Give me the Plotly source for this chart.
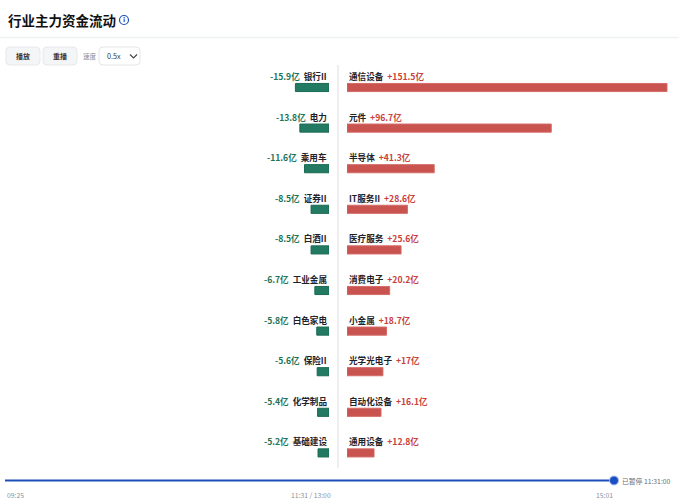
import plotly.graph_objects as go

# Data (亿 = 100 million CNY)
neg_names = ["银行II", "电力", "乘用车", "证券II", "白酒II",
             "工业金属", "白色家电", "保险II", "化学制品", "基础建设"]
neg_vals = [-15.9, -13.8, -11.6, -8.5, -8.5, -6.7, -5.8, -5.6, -5.4, -5.2]

pos_names = ["通信设备", "元件", "半导体", "IT服务II", "医疗服务",
             "消费电子", "小金属", "光学光电子", "自动化设备", "通用设备"]
pos_vals = [151.5, 96.7, 41.3, 28.6, 25.6, 20.2, 18.7, 17, 16.1, 12.8]

time_ticks = ["09:25", "11:31 / 13:00", "15:01"]
status_text = "已暂停 11:31:00"

W, H = 679, 500
FONT = "Noto Sans CJK SC"
GREEN = "#237a62"
GREEN_TXT = "#1c7456"
RED = "#c9534f"
RED_TXT = "#c8403a"
DARK = "#1f2329"
GRAY = "#8a8f99"
BLUE = "#1d4fb8"


def px(x):
    return x / W


def py(y):
    return 1 - y / H


rows = list(range(len(neg_vals)))

fig = go.Figure()
fig.add_trace(go.Bar(
    x=neg_vals, y=rows, orientation="h", width=0.2,
    marker=dict(color=GREEN, line=dict(color="#1b6a53", width=1)),
    xaxis="x", yaxis="y", hoverinfo="skip"
))
fig.add_trace(go.Bar(
    x=pos_vals, y=rows, orientation="h", width=0.2,
    marker=dict(color=RED, line=dict(color="#d46b67", width=1)),
    xaxis="x2", yaxis="y", hoverinfo="skip"
))

annotations = []
for i, (n, v) in enumerate(zip(neg_names, neg_vals)):
    annotations.append(dict(
        xref="paper", yref="y", x=px(329), y=i, yshift=11.5,
        xanchor="right", yanchor="middle", showarrow=False,
        text=f"<b><span style='color:{GREEN_TXT}'>{v:g}亿</span>\u00a0\u00a0"
             f"<span style='color:{DARK}'>{n}</span></b>",
        font=dict(family=FONT, size=8.6)
    ))
for i, (n, v) in enumerate(zip(pos_names, pos_vals)):
    annotations.append(dict(
        xref="paper", yref="y", x=px(347), y=i, yshift=11.5,
        xanchor="left", yanchor="middle", showarrow=False,
        text=f"<b><span style='color:{DARK}'>{n}</span>\u00a0\u00a0"
             f"<span style='color:{RED_TXT}'>+{v:g}亿</span></b>",
        font=dict(family=FONT, size=8.6)
    ))

# header
annotations.append(dict(xref="paper", yref="paper", x=px(6), y=py(20),
                        xanchor="left", yanchor="middle", showarrow=False,
                        text="<b>行业主力资金流动</b>",
                        font=dict(family=FONT, size=13.5, color="#111111")))
annotations.append(dict(xref="paper", yref="paper", x=px(124), y=py(20.3),
                        xanchor="center", yanchor="middle", showarrow=False,
                        text="<b>i</b>", font=dict(family="DejaVu Sans", size=6.5, color=BLUE)))

# controls
for label, cx in [("播放", 23), ("重播", 60)]:
    annotations.append(dict(xref="paper", yref="paper", x=px(cx), y=py(56),
                            xanchor="center", yanchor="middle", showarrow=False,
                            text=f"<b>{label}</b>",
                            font=dict(family=FONT, size=7, color="#333333")))
annotations.append(dict(xref="paper", yref="paper", x=px(81), y=py(56),
                        xanchor="left", yanchor="middle", showarrow=False,
                        text="速度", font=dict(family=FONT, size=6.6, color=GRAY)))
annotations.append(dict(xref="paper", yref="paper", x=px(105), y=py(56),
                        xanchor="left", yanchor="middle", showarrow=False,
                        text="0.5x", font=dict(family=FONT, size=7.2, color="#333333")))

# timeline
for label, x, anchor in zip(time_ticks, [5, 311, 615], ["left", "center", "right"]):
    annotations.append(dict(xref="paper", yref="paper", x=px(x), y=py(494.5),
                            xanchor=anchor, yanchor="middle", showarrow=False,
                            text=label, font=dict(family=FONT, size=6.8, color=GRAY)))
annotations.append(dict(xref="paper", yref="paper", x=px(620), y=py(480.5),
                        xanchor="left", yanchor="middle", showarrow=False,
                        text=status_text, font=dict(family=FONT, size=6.8, color="#666b73")))


def rrect(x0, y0, x1, y1, r, fill, line):
    p = (f"M {px(x0 + r)} {py(y0)} L {px(x1 - r)} {py(y0)} "
         f"Q {px(x1)} {py(y0)} {px(x1)} {py(y0 + r)} L {px(x1)} {py(y1 - r)} "
         f"Q {px(x1)} {py(y1)} {px(x1 - r)} {py(y1)} L {px(x0 + r)} {py(y1)} "
         f"Q {px(x0)} {py(y1)} {px(x0)} {py(y1 - r)} L {px(x0)} {py(y0 + r)} "
         f"Q {px(x0)} {py(y0)} {px(x0 + r)} {py(y0)} Z")
    return dict(type="path", xref="paper", yref="paper", path=p,
                fillcolor=fill, line=dict(color=line, width=1), layer="below")


shapes = [
    # header separator
    dict(type="line", xref="paper", yref="paper", x0=0, x1=1, y0=py(37.5), y1=py(37.5),
         line=dict(color="#f0f1f3", width=1.5)),
    # info icon
    dict(type="circle", xref="paper", yref="paper",
         x0=px(119.5), x1=px(128.5), y0=py(15.5), y1=py(24.5),
         line=dict(color=BLUE, width=1.2)),
    rrect(6, 47, 40, 65, 4, "#f4f5f7", "#e6e8eb"),
    rrect(43, 47, 77, 65, 4, "#f4f5f7", "#e6e8eb"),
    rrect(99, 47, 140, 65, 4, "#ffffff", "#e3e5e8"),
    # chevron
    dict(type="path", xref="paper", yref="paper",
         path=f"M {px(130)} {py(54.5)} L {px(133.5)} {py(58)} L {px(137)} {py(54.5)}",
         line=dict(color="#444444", width=1.1)),
    # centre divider
    dict(type="line", xref="paper", yref="paper", x0=px(338), x1=px(338), y0=py(65), y1=py(468),
         line=dict(color="#e8e9ec", width=1.5)),
    # timeline
    dict(type="line", xref="paper", yref="paper", x0=px(5), x1=px(614), y0=py(480.5), y1=py(480.5),
         line=dict(color=BLUE, width=2)),
    dict(type="circle", xref="paper", yref="paper",
         x0=px(609.5), x1=px(618.5), y0=py(476), y1=py(485),
         fillcolor="#1a4fc4", line=dict(color="#a9bff0", width=1)),
]

scale = 320 / 151.5  # pixels per 亿, shared by both sides

fig.update_layout(
    width=W, height=H,
    margin=dict(l=0, r=0, t=0, b=0),
    paper_bgcolor="white", plot_bgcolor="white",
    showlegend=False, barmode="overlay",
    xaxis=dict(domain=[0, px(329)], range=[-329 / scale, 0], visible=False, fixedrange=True),
    xaxis2=dict(domain=[px(347), 1], range=[0, (W - 347) / scale], visible=False,
                anchor="y", fixedrange=True),
    yaxis=dict(domain=[0, 1], range=[(H - 87.5) / 40.6, -87.5 / 40.6], visible=False,
               fixedrange=True),
    annotations=annotations,
    shapes=shapes,
)

# drop the default 8px page margin so the figure fills the window exactly
fig.write_html("out.html", config={"displayModeBar": False},
               post_script="document.body.style.margin='0';document.body.style.overflow='hidden';")
